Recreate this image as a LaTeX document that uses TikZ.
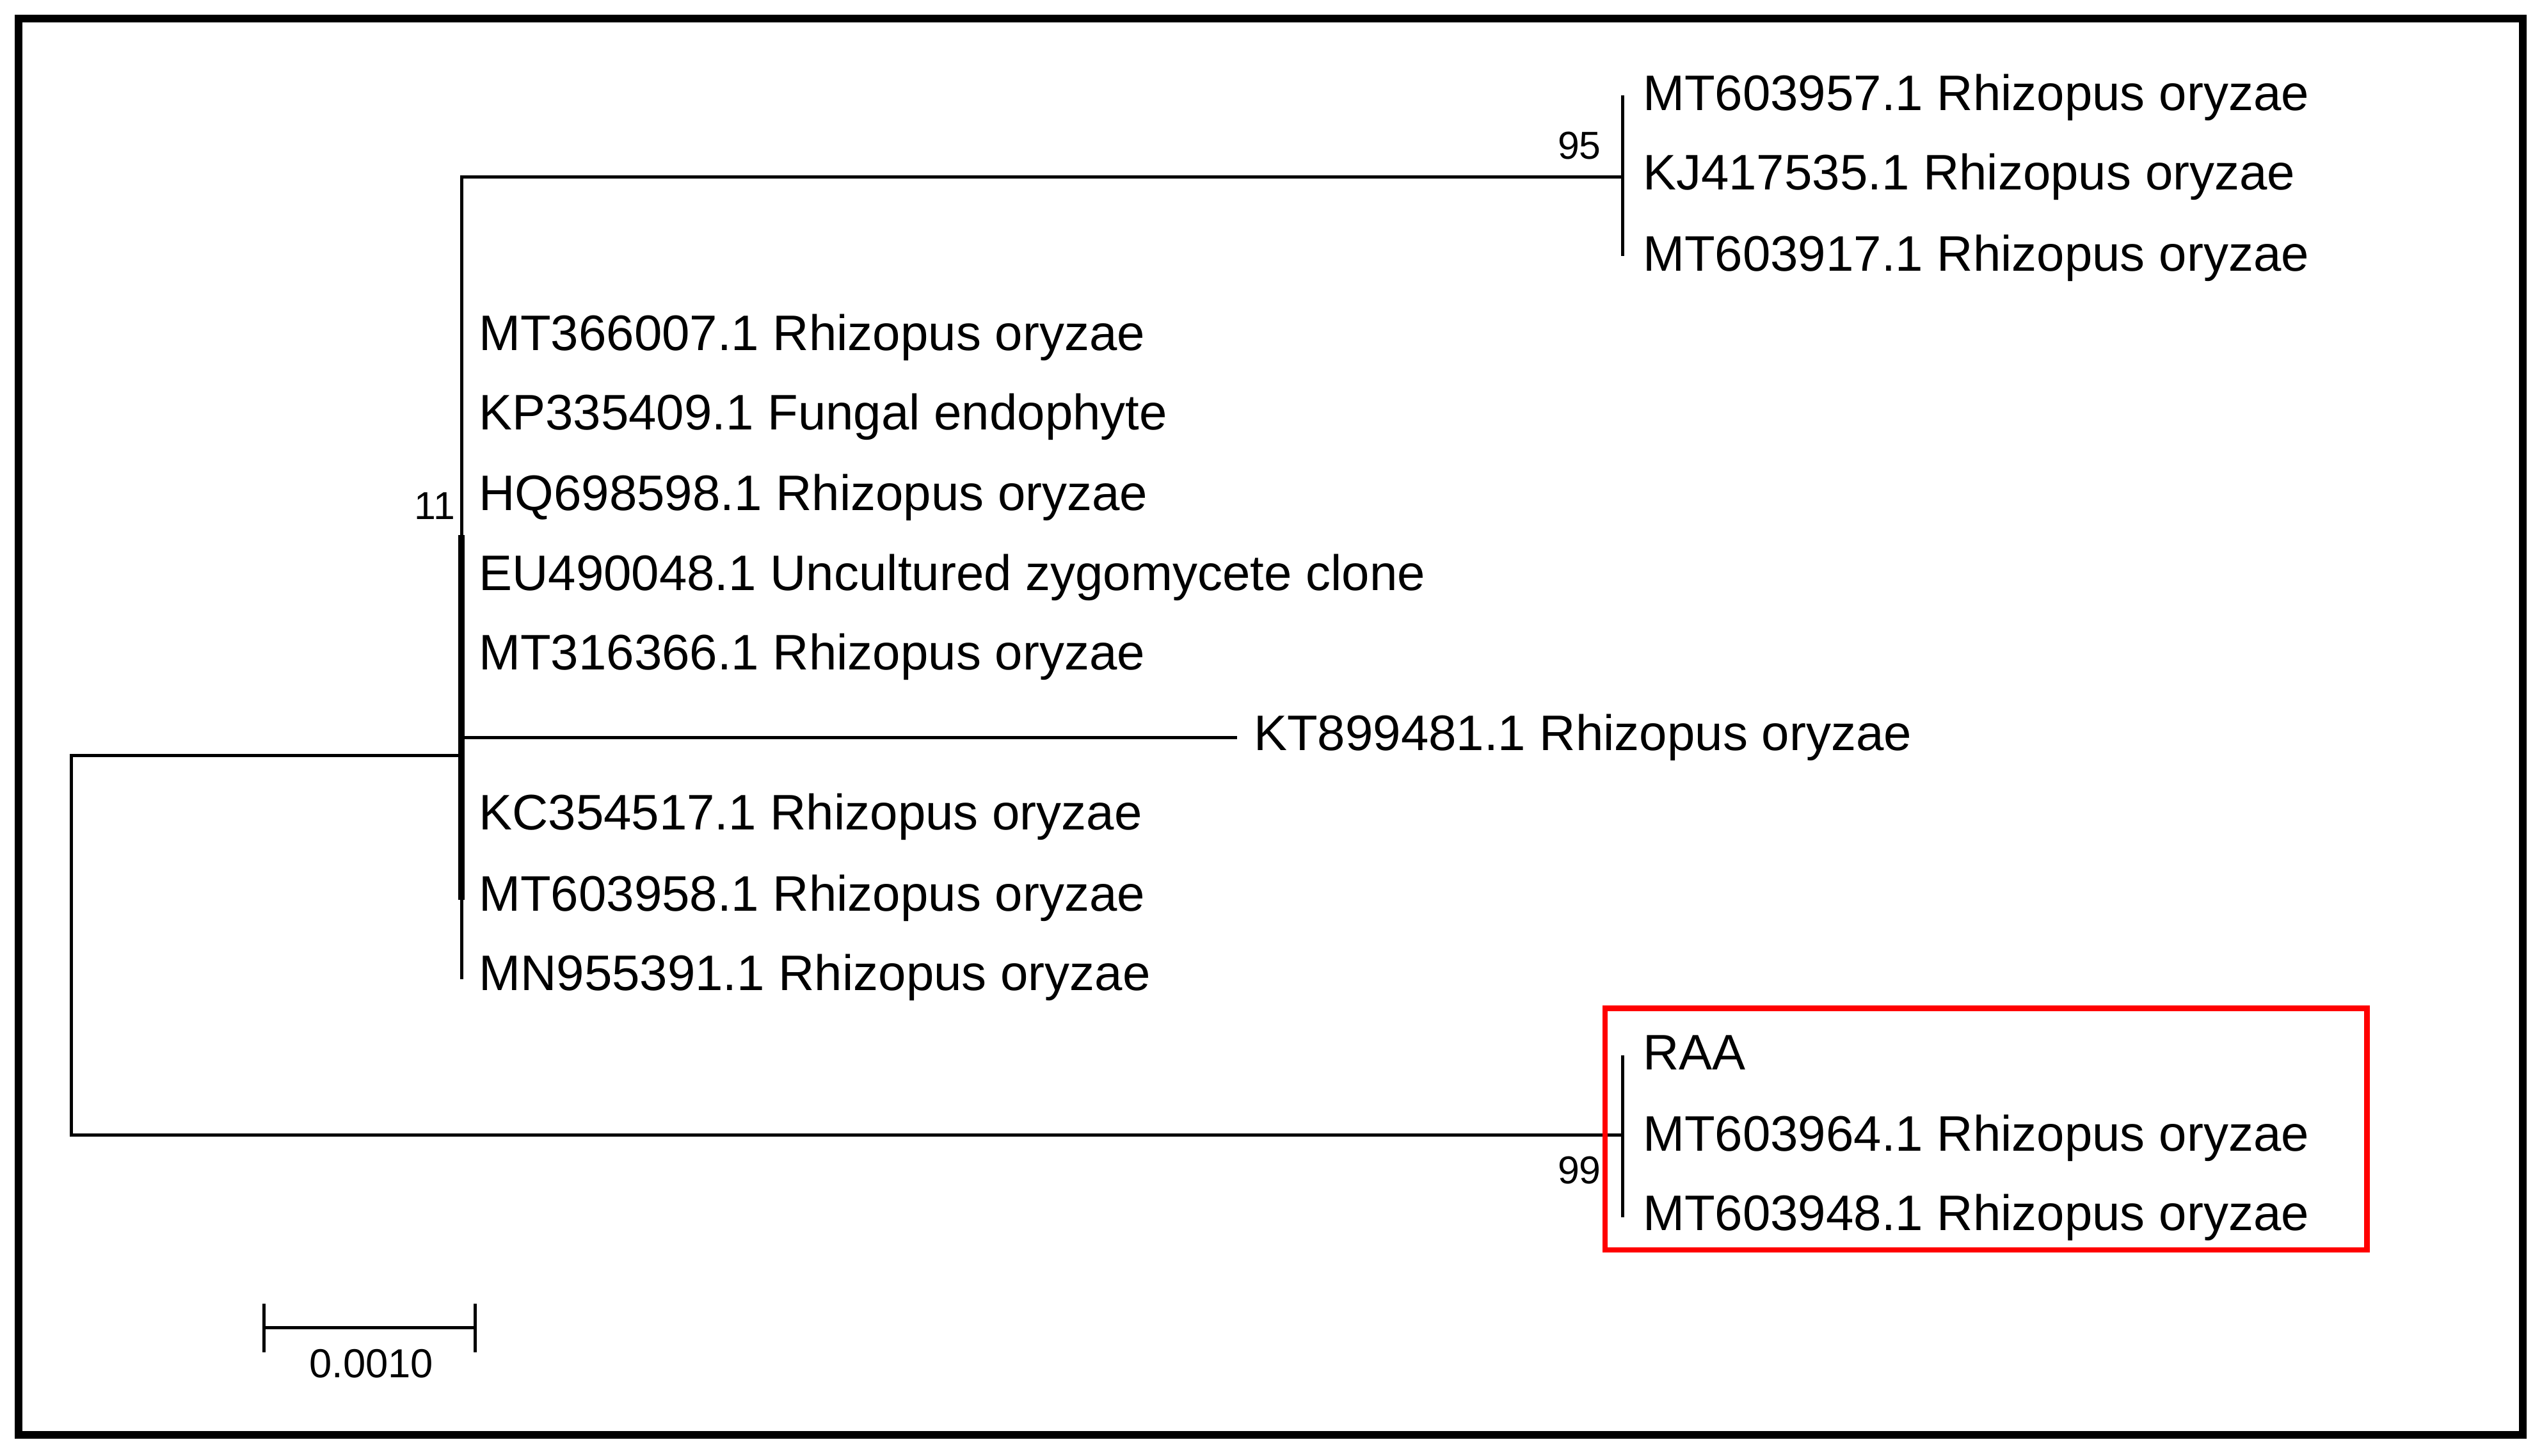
\documentclass[tikz,border=0pt]{standalone}
\usepackage{fontspec}
\setmainfont{Liberation Sans}
\usetikzlibrary{positioning}

\definecolor{cboxred}{RGB}{255,0,0}

\tikzset{
  branch/.style={draw=black, line width=1pt, line cap=rect},
  taxon/.style={anchor=base west, inner sep=0pt, font=\fontsize{15.4}{18}\selectfont},
  support/.style={anchor=east, inner sep=0pt, font=\fontsize{12}{14}\selectfont},
}

\begin{document}
\begin{tikzpicture}[y=0.50pt, x=0.50pt, yscale=-1.000000, xscale=1.000000]
\useasboundingbox (0,0) rectangle (1568,898);

% frame
\path[draw=black, line width=2.4pt] (11.5,11.5) rectangle (1556,885);

% internal nodes
\coordinate (root) at (44,583);
\coordinate (n11) at (285,466);
\coordinate (n95) at (1001,109);
\coordinate (n99) at (1001,700);

% clade 95
\node[taxon] (mt603957) at (1013,68) {MT603957.1 Rhizopus oryzae};
\node[taxon] (kj417535) at (1013,117) {KJ417535.1 Rhizopus oryzae};
\node[taxon] (mt603917) at (1013,167) {MT603917.1 Rhizopus oryzae};

% clade 11
\node[taxon] (mt366007) at (295,216) {MT366007.1 Rhizopus oryzae};
\node[taxon] (kp335409) at (295,265) {KP335409.1 Fungal endophyte};
\node[taxon] (hq698598) at (295,315) {HQ698598.1 Rhizopus oryzae};
\node[taxon] (eu490048) at (295,364) {EU490048.1 Uncultured zygomycete clone};
\node[taxon] (mt316366) at (295,413) {MT316366.1 Rhizopus oryzae};
\node[taxon] (kt899481) at (773,463) {KT899481.1 Rhizopus oryzae};
\node[taxon] (kc354517) at (295,512) {KC354517.1 Rhizopus oryzae};
\node[taxon] (mt603958) at (295,562) {MT603958.1 Rhizopus oryzae};
\node[taxon] (mn955391) at (295,611) {MN955391.1 Rhizopus oryzae};

% clade 99
\node[taxon] (raa) at (1013,660) {RAA};
\node[taxon] (mt603964) at (1013,710) {MT603964.1 Rhizopus oryzae};
\node[taxon] (mt603948) at (1013,759) {MT603948.1 Rhizopus oryzae};

% bootstrap values
\node[support] (b95) at (988,90) {95};
\node[support] (b11) at (281,312) {11};
\node[support] (b99) at (988,722) {99};

% branches
\path[branch] (root |- n11) -- (root |- n99);
\path[branch] (root |- n11) -- (n11);
\path[branch] (root |- n99) -- (n99);
\path[branch] (n11 |- n95) -- (n11 |- 0,603);
\path[branch, line width=1.9pt, line cap=butt] (284.5,330) -- (284.5,555);
\path[branch] (n11 |- n95) -- (n95);
\path[branch] (n11 |- 0,455) -- ([xshift=-5.5pt]kt899481.west |- 0,455);
\path[branch] (n95 |- 0,60) -- (n95 |- 0,157);
\path[branch] (n99 |- 0,652) -- (n99 |- 0,750);

% highlight
\path[draw=cboxred, line width=1.7pt] (990,622) rectangle (1460,771);

% scale bar
\coordinate (sbl) at (163,819);
\coordinate (sbr) at (293,819);
\path[branch] (sbl) -- (sbr);
\path[branch] ([yshift=-7]sbl) -- ([yshift=7]sbl);
\path[branch] ([yshift=-7]sbr) -- ([yshift=7]sbr);
\node[inner sep=0pt, font=\fontsize{12.5}{14}\selectfont] (sblabel) at (229,841) {0.0010};

\end{tikzpicture}
\end{document}
